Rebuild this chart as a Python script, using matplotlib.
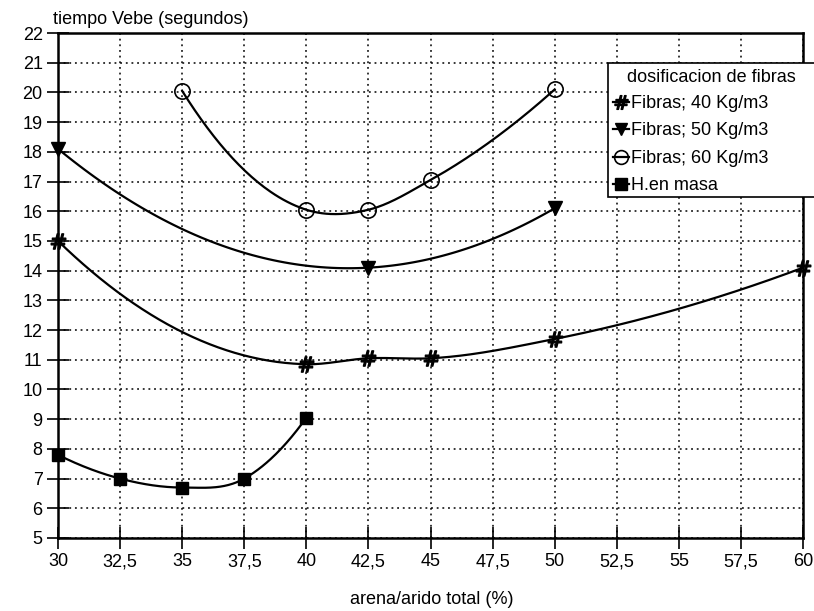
import matplotlib
matplotlib.use('Agg')
import matplotlib.pyplot as plt
from matplotlib.ticker import FuncFormatter
from matplotlib.patches import Rectangle
import numpy as np

plt.rcParams['font.family'] = ['Liberation Sans', 'DejaVu Sans']

# data
x_f40 = [30, 40, 42.5, 45, 50, 60]
y_f40 = [15.0, 10.85, 11.05, 11.05, 11.7, 14.1]
x_f50 = [30, 42.5, 50]
y_f50 = [18.1, 14.1, 16.1]
x_f60 = [35, 40, 42.5, 45, 50]
y_f60 = [20.05, 16.05, 16.05, 17.05, 20.1]
x_hm = [30, 32.5, 35, 37.5, 40]
y_hm = [7.8, 7.0, 6.7, 7.0, 9.05]

labels = ['Fibras; 40 Kg/m3', 'Fibras; 50 Kg/m3', 'Fibras; 60 Kg/m3', 'H.en masa']
xticks = np.arange(30, 60.1, 2.5)
yticks = np.arange(5, 22.1, 1)


def smooth(xs, ys, n=60):
    # cubic hermite through the points, slopes from 3-point (quadratic) fits
    x = np.asarray(xs, float)
    y = np.asarray(ys, float)
    h = np.diff(x)
    s = np.diff(y) / h
    m = np.zeros_like(x)
    for i in range(1, len(x) - 1):
        m[i] = (h[i] * s[i - 1] + h[i - 1] * s[i]) / (h[i - 1] + h[i])
    m[0] = ((2 * h[0] + h[1]) * s[0] - h[0] * s[1]) / (h[0] + h[1])
    m[-1] = ((2 * h[-1] + h[-2]) * s[-1] - h[-1] * s[-2]) / (h[-1] + h[-2])
    cx, cy = [], []
    for i in range(len(h)):
        t = np.linspace(0, 1, n)
        h00 = 2 * t**3 - 3 * t**2 + 1
        h10 = t**3 - 2 * t**2 + t
        h01 = -2 * t**3 + 3 * t**2
        h11 = t**3 - t**2
        cx.append(x[i] + t * h[i])
        cy.append(h00 * y[i] + h10 * h[i] * m[i] + h01 * y[i + 1] + h11 * h[i] * m[i + 1])
    return np.concatenate(cx), np.concatenate(cy)


fig = plt.figure(figsize=(8.14, 6.11), dpi=100)
ax = fig.add_axes([58 / 814, 1 - 538 / 611, 745 / 814, 505 / 611])

series = [
    (x_f40, y_f40, dict(marker=r'$\#$', markersize=11)),
    (x_f50, y_f50, dict(marker='v', markersize=10)),
    (x_f60, y_f60, dict(marker='o', markersize=11, markerfacecolor='none', markeredgewidth=1.2)),
    (x_hm, y_hm, dict(marker='s', markersize=9)),
]

handles = []
for (xs, ys, st), lab in zip(series, labels):
    cx, cy = smooth(xs, ys)
    ax.plot(cx, cy, color='black', lw=1.6, zorder=3)
    ax.plot(xs, ys, linestyle='none', color='black', zorder=4, clip_on=False, **st)
    h, = ax.plot([], [], color='black', lw=1.6, label=lab, **st)
    handles.append(h)

ax.set_xlim(30, 60)
ax.set_ylim(5, 22)
ax.set_xticks(xticks)
ax.set_yticks(yticks)
ax.xaxis.set_major_formatter(FuncFormatter(lambda v, p: ('%g' % v).replace('.', ',')))
ax.yaxis.set_major_formatter(FuncFormatter(lambda v, p: '%d' % v))
ax.tick_params(direction='inout', length=16, width=1.2, labelsize=13, pad=3, colors='black')
ax.grid(True, color='black', linestyle=(0, (1.2, 2.5)), linewidth=1.1)
for s in ax.spines.values():
    s.set_linewidth(1.8)
    s.set_color('black')

fig.text(53 / 814, 1 - 20 / 611, 'tiempo Vebe (segundos)', fontsize=13, va='center', ha='left')
fig.text(432 / 814, 1 - 600 / 611, 'arena/arido total (%)', fontsize=13, va='center', ha='center')

# legend box runs past the right edge of the picture, as in the original
box = Rectangle((608 / 814, 1 - 197 / 611), 220 / 814, 134 / 611, transform=fig.transFigure,
                facecolor='white', edgecolor='black', linewidth=1.2, zorder=10)
fig.add_artist(box)
fig.text(711 / 814, 1 - 77 / 611, 'dosificacion de fibras', fontsize=13,
         ha='center', va='center', zorder=11)
leg = fig.legend(handles=handles, loc='upper left',
                 bbox_to_anchor=(613 / 814, 1 - 95 / 611),
                 fontsize=13, frameon=False, handlelength=0.9, handletextpad=0.1,
                 borderpad=0, labelspacing=0.58, borderaxespad=0, markerscale=0.9)
leg.set_zorder(12)

fig.savefig('out.png', dpi=100)
